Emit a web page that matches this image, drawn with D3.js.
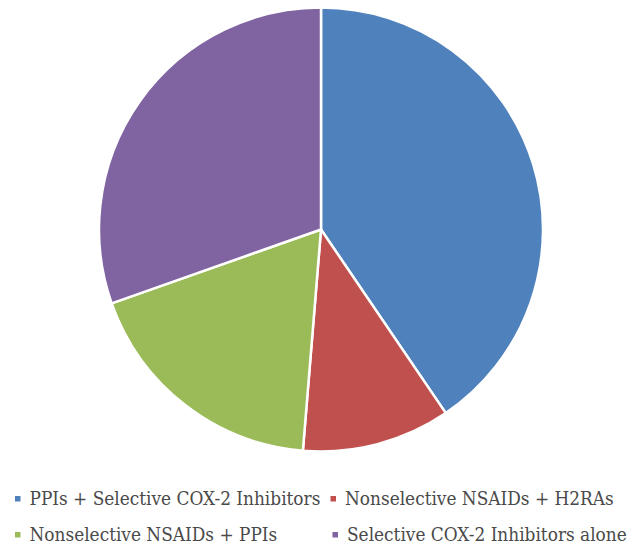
<!DOCTYPE html>
<html><head><meta charset="utf-8">
<script src="https://cdn.jsdelivr.net/npm/d3@7"></script>
<style>body{margin:0;background:#fff}svg{display:block}</style>
</head><body>
<script>
const categories = ["PPIs + Selective COX-2 Inhibitors","Nonselective NSAIDs + H2RAs","Nonselective NSAIDs + PPIs","Selective COX-2 Inhibitors alone"];
const values = [40.5, 10.8, 18.3, 30.4];
const colors = ["#4F81BD","#C0504D","#9BBB59","#8064A2"];

const W=640,H=547;
const svg=d3.select("body").append("svg").attr("width",W).attr("height",H);
const cx=321, cy=229.5, r=222;
const pie=d3.pie().sort(null).value(d=>d)(values);
const arc=d3.arc().innerRadius(0).outerRadius(r);
svg.append("g").attr("transform",`translate(${cx},${cy})`)
  .selectAll("path").data(pie).join("path")
  .attr("d",arc).attr("fill",(d,i)=>colors[i])
  .attr("stroke","#fff").attr("stroke-width",2.5).attr("stroke-linejoin","round");

const FF="'DejaVu Serif Condensed', 'Liberation Serif', serif";
const probe=svg.append("text").attr("font-family",FF).attr("font-stretch","condensed").attr("font-size",20).text(categories[0]);
const fs=Math.min(21, 20*291/probe.node().getComputedTextLength());
probe.remove();

const legendPos=[[17.5,505],[333,505],[17.5,541],[335,541]];
const lg=svg.append("g");
categories.forEach((c,i)=>{
  const [x,y]=legendPos[i];
  lg.append("rect").attr("x",x-2.5).attr("y",y-9).attr("width",5.5).attr("height",5.5).attr("fill",colors[i]);
  lg.append("text").attr("x",x+12).attr("y",y).text(c)
    .attr("font-family",FF).attr("font-stretch","condensed").attr("font-size",fs).attr("fill","#4a4a4a");
});
</script>
</body></html>
